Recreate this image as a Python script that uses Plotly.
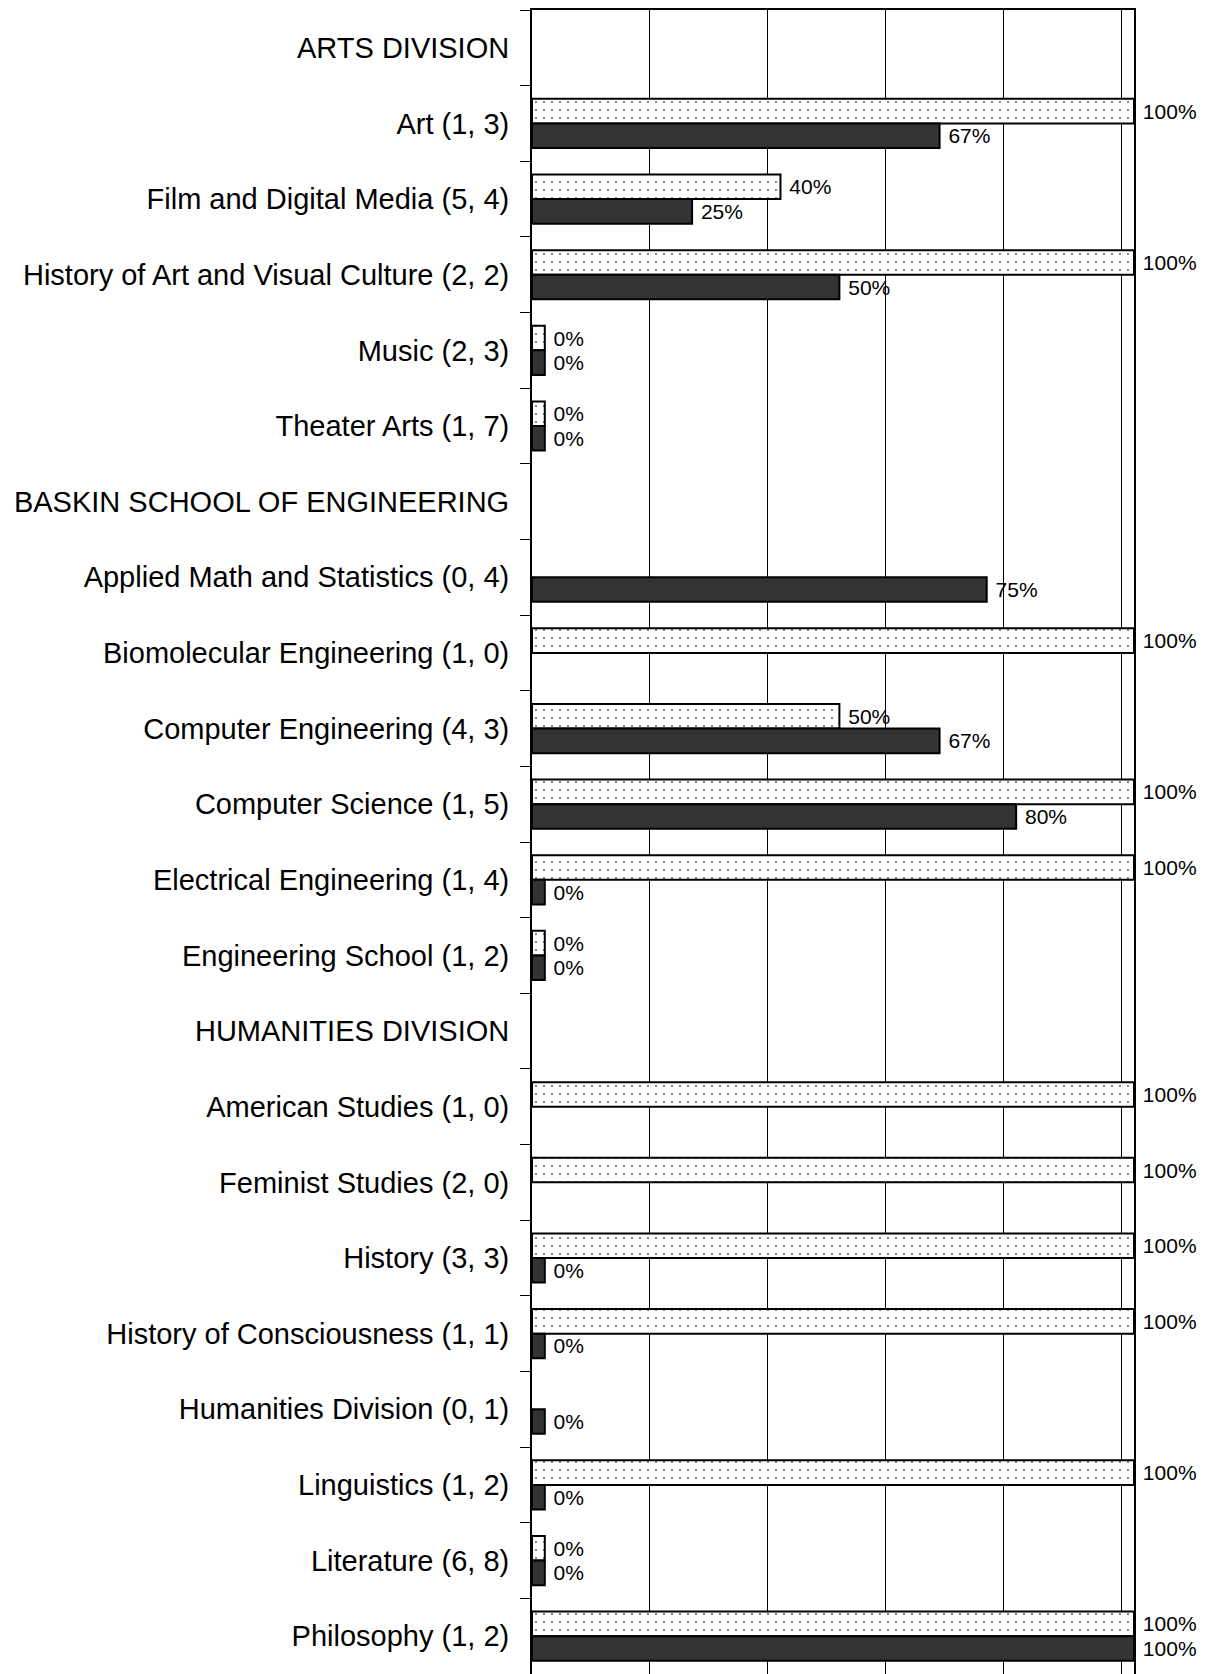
import plotly.graph_objects as go

categories = [
    "ARTS DIVISION",
    "Art (1, 3)",
    "Film and Digital Media (5, 4)",
    "History of Art and Visual Culture (2, 2)",
    "Music (2, 3)",
    "Theater Arts (1, 7)",
    "BASKIN SCHOOL OF ENGINEERING",
    "Applied Math and Statistics (0, 4)",
    "Biomolecular Engineering (1, 0)",
    "Computer Engineering (4, 3)",
    "Computer Science (1, 5)",
    "Electrical Engineering (1, 4)",
    "Engineering School (1, 2)",
    "HUMANITIES DIVISION",
    "American Studies (1, 0)",
    "Feminist Studies (2, 0)",
    "History (3, 3)",
    "History of Consciousness (1, 1)",
    "Humanities Division (0, 1)",
    "Linguistics (1, 2)",
    "Literature (6, 8)",
    "Philosophy (1, 2)",
]

dotted_values = [None, 1.00, 0.40, 1.00, 0.0, 0.0,
                 None, None, 1.00, 0.50, 1.00, 1.00, 0.0,
                 None, 1.00, 1.00, 1.00, 1.00, None, 1.00, 0.0, 1.00]
dark_values = [None, 0.67, 0.25, 0.50, 0.0, 0.0,
               None, 0.75, None, 0.67, 0.80, 0.0, 0.0,
               None, None, None, 0.0, 0.0, 0.0, 0.0, 0.0, 1.00]

STUB = 0.0217  # minimum visible bar length (zero bars still drawn as a stub)
FONT = "Arial, Liberation Sans, sans-serif"
BODY = 8  # default page body margin


def bar_x(vals):
    return [None if v is None else v + STUB for v in vals]


def bar_text(vals):
    return ["" if v is None else "&nbsp;" + f"{round(v * 100)}%" for v in vals]


fig = go.Figure()
fig.add_trace(go.Bar(
    y=categories, x=bar_x(dotted_values), orientation="h",
    text=bar_text(dotted_values), textposition="outside", cliponaxis=False,
    constraintext="none",
    textfont=dict(family=FONT, size=21, color="black"),
    marker=dict(color="white", line=dict(color="black", width=2),
                pattern=dict(shape=".", size=8, solidity=0.06,
                             fgcolor="#707070", bgcolor="white", fillmode="replace")),
    showlegend=False, hoverinfo="skip",
))
fig.add_trace(go.Bar(
    y=categories, x=bar_x(dark_values), orientation="h",
    text=bar_text(dark_values), textposition="outside", cliponaxis=False,
    constraintext="none",
    textfont=dict(family=FONT, size=21, color="black"),
    marker=dict(color="#333333", line=dict(color="black", width=2)),
    showlegend=False, hoverinfo="skip",
))

fig.update_layout(
    width=1213 - BODY, height=1674 - BODY,
    margin=dict(l=532 - BODY, r=79, t=10 - BODY, b=0),
    paper_bgcolor="white", plot_bgcolor="white",
    barmode="group", bargap=0.35, bargroupgap=0,
    font=dict(family=FONT, color="black"),
)
fig.update_xaxes(
    range=[0, 1 + STUB], tick0=0, dtick=0.2,
    showgrid=True, gridcolor="black", gridwidth=1,
    showticklabels=False, ticks="", zeroline=False,
    showline=True, linecolor="black", linewidth=2, mirror=True,
)
fig.update_yaxes(
    categoryorder="array", categoryarray=categories, autorange="reversed",
    tickson="boundaries", ticks="outside", ticklen=10, tickcolor="black", tickwidth=1,
    tickfont=dict(family=FONT, size=29, color="black"),
    ticklabelstandoff=15,
    showgrid=False, zeroline=False,
    showline=True, linecolor="black", linewidth=2, mirror=True,
)

fig.write_html("out.html")
